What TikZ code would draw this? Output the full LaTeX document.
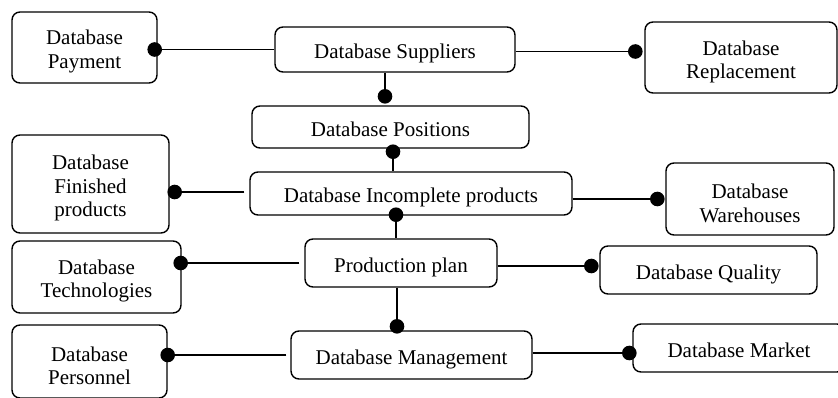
\documentclass[tikz,border=0pt]{standalone}
\usepackage{fontspec}
\setmainfont{Liberation Serif}
\usetikzlibrary{calc}

% strut that fixes the height of a box's first text line
\newcommand{\firstline}{\rule[-4.6pt]{0pt}{27.6pt}}

\tikzset{
  dbbox/.style={draw, line width=1.4pt, rounded corners=8pt, align=center,
    inner sep=0pt, font=\fontsize{21}{23.5}\selectfont},
  link/.style={line width=1.3pt},
  dotmark/.style={fill=black}
}
\newcommand{\dbdot}[1]{\fill[dotmark] #1 circle[radius=7.3pt];}

\begin{document}
\begin{tikzpicture}[x=1pt,y=-1pt]
  \useasboundingbox (0,0) rectangle (838,397);

  % database boxes
  \node[dbbox, minimum width=145pt, minimum height=71pt] (pay)  at (84.5,47.5)  {\firstline Database\\Payment};
  \node[dbbox, minimum width=240pt, minimum height=45pt] (sup)  at (395,49.5)   {\firstline Database Suppliers};
  \node[dbbox, minimum width=192pt, minimum height=71pt] (rep)  at (741,57.5)   {\firstline Database\\Replacement};
  \node[dbbox, minimum width=277pt, minimum height=42pt] (pos)  at (390.5,127)  {\firstline Database Positions};
  \node[dbbox, minimum width=157pt, minimum height=98pt] (fin)  at (90.5,184)   {\firstline Database\\Finished\\products};
  \node[dbbox, minimum width=322pt, minimum height=43pt] (inc)  at (411,193.5)  {\firstline Database Incomplete products};
  \node[dbbox, minimum width=168pt, minimum height=72pt] (war)  at (750,199)    {\firstline Database\\Warehouses};
  \node[dbbox, minimum width=192pt, minimum height=48pt] (plan) at (401,263)    {\firstline Production plan};
  \node[dbbox, minimum width=169pt, minimum height=72pt] (tech) at (96.5,277)   {\firstline Database\\Technologies};
  \node[dbbox, minimum width=217pt, minimum height=48pt] (qual) at (708.5,270)  {\firstline Database Quality};
  \node[dbbox, minimum width=241pt, minimum height=48pt] (man)  at (411.5,355)  {\firstline Database Management};
  \node[dbbox, minimum width=155pt, minimum height=73pt] (per)  at (89.5,361.5) {\firstline Database\\Personnel};
  \node[dbbox, minimum width=212pt, minimum height=48pt] (mar)  at (739,348)    {\firstline Database Market};

  % connectors with dot ends
  \draw[link] (sup.west) -- (pay.east |- sup.west);
  \dbdot{($(pay.east |- sup.west)+(-3,0)$)}

  \draw[link] ($(sup.east)+(0,2)$) -- ($(rep.west |- sup.east)+(-9,2)$);
  \dbdot{($(rep.west |- sup.east)+(-9,2)$)}

  \draw[link] ($(sup.south)+(-10,0)$) -- ($(sup.south |- pos.north)+(-10,-9)$);
  \dbdot{($(sup.south |- pos.north)+(-10,-9)$)}

  \draw[link] ($(pos.south)+(2.5,3)$) -- ($(pos.south |- inc.north)+(2.5,0)$);
  \dbdot{($(pos.south)+(2.5,3)$)}

  \draw[link] ($(inc.west)+(-5,-1.5)$) -- ($(fin.east |- inc.west)+(5,-1.5)$);
  \dbdot{($(fin.east |- inc.west)+(5,-1.5)$)}

  \draw[link] ($(inc.east)+(0,5.5)$) -- ($(war.west |- inc.east)+(-8,5.5)$);
  \dbdot{($(war.west |- inc.east)+(-8,5.5)$)}

  \draw[link] ($(inc.south)+(-15,-1)$) -- ($(inc.south |- plan.north)+(-15,0)$);
  \dbdot{($(inc.south)+(-15,-1)$)}

  \draw[link] ($(plan.west)+(-5,0)$) -- ($(tech.east |- plan.west)+(-1,0)$);
  \dbdot{($(tech.east |- plan.west)+(-1,0)$)}

  \draw[link] ($(plan.east)+(0,3)$) -- ($(qual.west |- plan.east)+(-8,3)$);
  \dbdot{($(qual.west |- plan.east)+(-8,3)$)}

  \draw[link] ($(plan.south)+(-4,0)$) -- ($(plan.south |- man.north)+(-4,-4)$);
  \dbdot{($(plan.south |- man.north)+(-4,-4)$)}

  \draw[link] ($(man.west)+(-4,0)$) -- (per.east |- man.west);
  \dbdot{(per.east |- man.west)}

  \draw[link] ($(man.east)+(0,-2)$) -- ($(mar.west |- man.east)+(-3,-2)$);
  \dbdot{($(mar.west |- man.east)+(-3,-2)$)}
\end{tikzpicture}
\end{document}
